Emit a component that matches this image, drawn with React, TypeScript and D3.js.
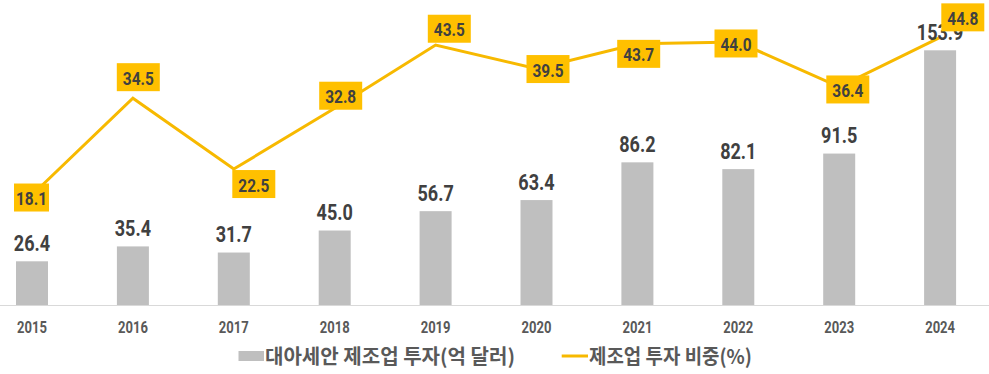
import React from "react";
import * as d3 from "d3";

const years = ["2015", "2016", "2017", "2018", "2019", "2020", "2021", "2022", "2023", "2024"];
const investment = [26.4, 35.4, 31.7, 45.0, 56.7, 63.4, 86.2, 82.1, 91.5, 153.9];
const share = [18.1, 34.5, 22.5, 32.8, 43.5, 39.5, 43.7, 44.0, 36.4, 44.8];
const legendLabels = ["대아세안 제조업 투자(억 달러)", "제조업 투자 비중(%)"];

// label box offsets (layout only)
const shareLabelOffsets: [number, number][] = [
  [-0.5, 2.5], [5.4, -21], [20, 15], [6, -12.5], [13.7, -16.3],
  [11.5, 0.4], [1.3, 10], [-2.3, 1.4], [8.6, 2.5], [22.7, -20],
];

const W = 989;
const H = 374;
const NUM_FONT = "Roboto, 'DejaVu Sans', sans-serif";
const KR_FONT = "'Noto Sans CJK KR', 'Noto Sans', sans-serif";

export default function App() {
  const x = d3.scalePoint<string>().domain(years).range([32, 940.1]);
  const yBar = d3.scaleLinear().domain([0, 180]).range([305, 7.1]);
  const yLine = d3.scaleLinear().domain([0, 50]).range([301.9, 6.65]);
  const barW = 32;

  const line = d3
    .line<number>()
    .x((_, i) => x(years[i]) as number)
    .y((d) => yLine(d));

  const boxH = 28;

  return (
    <svg
      width={W}
      height={H}
      style={{ position: "absolute", left: 0, top: 0, background: "#fff" }}
    >
      {/* axis line */}
      <line x1={0} x2={W} y1={305.5} y2={305.5} stroke="#d9d9d9" strokeWidth={1.2} />

      {/* bars */}
      {investment.map((v, i) => (
        <rect
          key={"b" + i}
          x={(x(years[i]) as number) - barW / 2}
          y={yBar(v)}
          width={barW}
          height={yBar(0) - yBar(v)}
          fill="#bfbfbf"
        />
      ))}

      {/* x labels */}
      {years.map((y, i) => (
        <text
          key={"x" + i}
          transform={`translate(${x(y)},333.3) scale(0.8,1)`}
          textAnchor="middle"
          fontFamily={NUM_FONT}
          fontWeight={700}
          fontSize={16.3}
          fill="#595959"
        >
          {y}
        </text>
      ))}

      {/* line */}
      <path d={line(share) || ""} fill="none" stroke="#f7b900" strokeWidth={3} strokeLinejoin="miter" />

      {/* bar labels */}
      {investment.map((v, i) => (
        <text
          key={"bl" + i}
          transform={`translate(${x(years[i])},${yBar(v) - 10.5}) scale(0.82,1)`}
          textAnchor="middle"
          fontFamily={NUM_FONT}
          fontWeight={700}
          fontSize={22}
          fill="#404040"
        >
          {v.toFixed(1)}
        </text>
      ))}

      {/* line labels */}
      {share.map((v, i) => {
        const label = v.toFixed(1);
        const ones = label.split("").filter((c) => c === "1").length;
        const bw = 43 - 4 * ones;
        const cx = (x(years[i]) as number) + shareLabelOffsets[i][0];
        const cy = yLine(v) + shareLabelOffsets[i][1];
        return (
          <g key={"ll" + i}>
            <rect x={cx - bw / 2} y={cy - boxH / 2} width={bw} height={boxH} fill="#ffc000" />
            <text
              transform={`translate(${cx},${cy + 7.5}) scale(0.82,1)`}
              textAnchor="middle"
              fontFamily={NUM_FONT}
              fontWeight={700}
              fontSize={18.8}
              fill="#404040"
            >
              {label}
            </text>
          </g>
        );
      })}

      {/* legend */}
      <rect x={238.5} y={351} width={25.5} height={10} fill="#bfbfbf" />
      <text
        x={265}
        y={363.5}
        fontFamily={KR_FONT}
        fontWeight={700}
        fontSize={20}
        fill="#595959"
        textLength={250}
        lengthAdjust="spacingAndGlyphs"
      >
        {legendLabels[0]}
      </text>
      <line x1={561.7} x2={588} y1={356} y2={356} stroke="#f7b900" strokeWidth={3} />
      <text
        x={589}
        y={363.5}
        fontFamily={KR_FONT}
        fontWeight={700}
        fontSize={20}
        fill="#595959"
        textLength={163}
        lengthAdjust="spacingAndGlyphs"
      >
        {legendLabels[1]}
      </text>
    </svg>
  );
}
